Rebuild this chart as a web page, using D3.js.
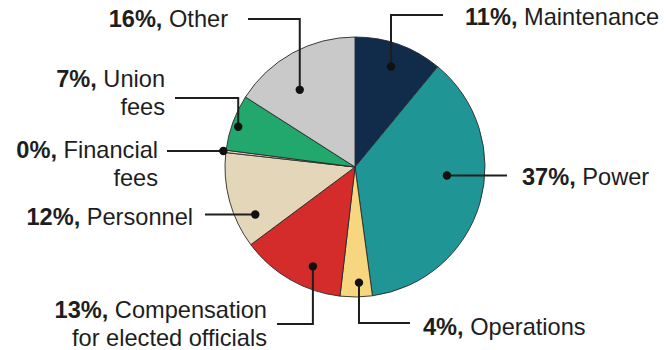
<!DOCTYPE html>
<html>
<head>
<meta charset="utf-8">
<script src="https://cdn.jsdelivr.net/npm/d3@7"></script>
<style>
  html, body { margin: 0; padding: 0; background: #fff; }
  svg text { font-family: "Liberation Sans", Arial, sans-serif; font-size: 23.6px; fill: #1e1e1e; }
</style>
</head>
<body>
<svg id="chart" width="667" height="350"></svg>
<script>
// Budget shares, clockwise from 12 o'clock
const categories = ["Maintenance", "Power", "Operations", "Compensation for elected officials",
                    "Personnel", "Financial fees", "Union fees", "Other"];
const shares = [11, 37, 4, 13, 12, 0.3, 7, 16];
const percentLabels = ["11%,", "37%,", "4%,", "13%,", "12%,", "0%,", "7%,", "16%,"];
const labelLines = [
  ["Maintenance"], ["Power"], ["Operations"], ["Compensation", "for elected officials"],
  ["Personnel"], ["Financial", "fees"], ["Union", "fees"], ["Other"]
];
const colors = ["#112b4b", "#1f9595", "#f6d67e", "#d42c2b", "#e3d6b9", "#e3d6b9", "#22a86d", "#c9c9c9"];

// Callout layout: where the dot sits inside its slice (fraction of the slice's sweep, fraction of the radius),
// where the leader ends, and where the text goes.
const callouts = [
  { t: 0.50, k: 0.82, endX: 443, endY: 15,   tx: 465, ty: 25,  anchor: "start" },
  { t: 0.42, k: 0.71, endX: 507, endY: null, tx: 522, ty: 185, anchor: "start" },
  { t: 0.40, k: 0.89, endX: 410, endY: 323,  tx: 423, ty: 335, anchor: "start" },
  { t: 0.35, k: 0.83, endX: 277, endY: 324,  tx: 267, ty: 318, anchor: "end" },
  { t: 0.26, k: 0.85, endX: 205, endY: null, tx: 193, ty: 225, anchor: "end" },
  { t: 0.50, k: 1.02, endX: 167, endY: null, tx: 158, ty: 158, anchor: "end" },
  { t: 0.46, k: 0.95, endX: 175, endY: 98,   tx: 165, ty: 87,  anchor: "end" },
  { t: 0.38, k: 0.73, endX: 248, endY: 19,   tx: 228, ty: 27,  anchor: "end" }
];

const svg = d3.select("#chart");
const cx = 355, cy = 167, radius = 130;
const lineGap = 28;

const data = categories.map((c, i) => ({ name: c, value: shares[i], color: colors[i], i }));
const pie = d3.pie().sort(null).value(d => d.value);
const arcs = pie(data);
const arc = d3.arc().innerRadius(0).outerRadius(radius);

const g = svg.append("g").attr("transform", `translate(${cx},${cy})`);

g.selectAll("path.slice")
  .data(arcs)
  .join("path")
  .attr("class", "slice")
  .attr("d", arc)
  .attr("fill", d => d.data.color)
  .attr("stroke", "#2a2a2a")
  .attr("stroke-width", 0.9)
  .attr("stroke-linejoin", "round");

// Anchor point for each callout, placed inside its slice
function anchorPoint(a, c) {
  const ang = a.startAngle + c.t * (a.endAngle - a.startAngle);
  const r = radius * c.k;
  return [cx + r * Math.sin(ang), cy - r * Math.cos(ang)];
}

const layer = svg.append("g");

arcs.forEach((a, i) => {
  const c = callouts[i];
  const [px, py] = anchorPoint(a, c);
  const ey = c.endY === null ? py : c.endY;
  const pts = c.endY === null ? [[px, py], [c.endX, ey]] : [[px, py], [px, ey], [c.endX, ey]];

  layer.append("path")
    .attr("d", d3.line()(pts))
    .attr("fill", "none")
    .attr("stroke", "#1e1e1e")
    .attr("stroke-width", 2);

  layer.append("circle")
    .attr("cx", px).attr("cy", py).attr("r", 4.2)
    .attr("fill", "#111");

  const text = layer.append("text")
    .attr("x", c.tx).attr("y", c.ty)
    .attr("text-anchor", c.anchor);

  const lines = labelLines[i];
  const first = text.append("tspan").attr("x", c.tx).attr("y", c.ty);
  first.append("tspan").attr("font-weight", 700).text(percentLabels[i]);
  first.append("tspan").text(" " + lines[0]);
  lines.slice(1).forEach((ln, j) => {
    text.append("tspan")
      .attr("x", c.tx)
      .attr("y", c.ty + lineGap * (j + 1))
      .text(ln);
  });
});
</script>
</body>
</html>
